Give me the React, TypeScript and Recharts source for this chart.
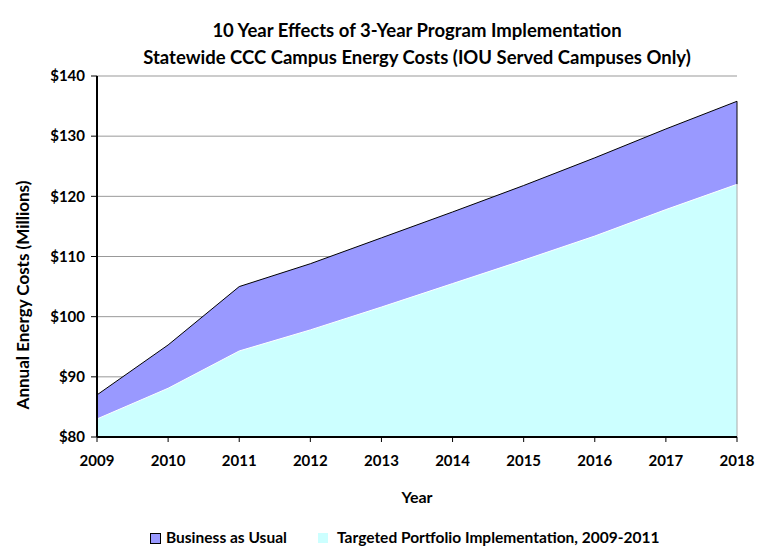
import React from 'react';
import { AreaChart, Area, XAxis, YAxis, CartesianGrid, ReferenceLine } from 'recharts';

const years = ['2009', '2010', '2011', '2012', '2013', '2014', '2015', '2016', '2017', '2018'];
const businessAsUsual = [87, 95.3, 105, 108.8, 113.1, 117.4, 121.8, 126.4, 131.2, 135.8];
const targeted = [83, 88.1, 94.3, 97.8, 101.6, 105.5, 109.4, 113.4, 117.8, 122.0];
const yTicks = [80, 90, 100, 110, 120, 130, 140];

const data = years.map((year, i) => ({
  year,
  bau: businessAsUsual[i],
  targeted: targeted[i],
}));

const FONT = 'Lato, "Open Sans", sans-serif';
const lastYear = years[years.length - 1];
const lastBau = businessAsUsual[businessAsUsual.length - 1];
const lastTargeted = targeted[targeted.length - 1];

const App: React.FC = () => {
  return (
    <div style={{ position: 'absolute', left: 0, top: 0, width: 768, height: 554, fontFamily: FONT, background: '#fff' }}>
      <div style={{ position: 'absolute', left: 97, width: 640, top: 17, textAlign: 'center', fontWeight: 700, fontSize: 18.5, lineHeight: '27px', color: '#000' }}>
        <div>10 Year Effects of 3-Year Program Implementation</div>
        <div>Statewide CCC Campus Energy Costs (IOU Served Campuses Only)</div>
      </div>
      <AreaChart width={768} height={554} data={data} margin={{ top: 76, right: 31, bottom: 87, left: 0 }}>
        <CartesianGrid horizontal vertical={false} stroke="#999" strokeWidth={1} />
        <XAxis
          dataKey="year"
          height={30}
          tick={{ fill: '#000', fontSize: 15, fontWeight: 700, fontFamily: FONT }}
          tickLine={{ stroke: '#000' }}
          tickSize={5}
          tickMargin={13}
          axisLine={{ stroke: '#000', strokeWidth: 2 }}
        />
        <YAxis
          width={97}
          domain={[80, 140]}
          ticks={yTicks}
          tickFormatter={(v) => `$${v}`}
          tick={{ fill: '#000', fontSize: 15, fontWeight: 700, fontFamily: FONT }}
          tickLine={{ stroke: '#000' }}
          tickSize={6}
          tickMargin={6}
          axisLine={{ stroke: '#000', strokeWidth: 2 }}
          allowDataOverflow
        />
        <Area
          type="linear"
          dataKey="bau"
          name="Business as Usual"
          fill="#9999FF"
          fillOpacity={1}
          stroke="#000"
          strokeWidth={1}
          isAnimationActive={false}
        />
        <Area
          type="linear"
          dataKey="targeted"
          name="Targeted Portfolio Implementation, 2009-2011"
          fill="#CCFFFF"
          fillOpacity={1}
          stroke="#fff"
          strokeWidth={1}
          isAnimationActive={false}
        />
        <ReferenceLine segment={[{ x: lastYear, y: lastTargeted }, { x: lastYear, y: lastBau }]} stroke="#000" />
        <ReferenceLine segment={[{ x: lastYear, y: 80 }, { x: lastYear, y: lastTargeted }]} stroke="#aaa" />
      </AreaChart>
      <div
        style={{
          position: 'absolute',
          left: 22,
          top: 295,
          transform: 'translate(-50%, -50%) rotate(-90deg)',
          whiteSpace: 'nowrap',
          fontWeight: 700,
          fontSize: 17,
        }}
      >
        Annual Energy Costs (Millions)
      </div>
      <div style={{ position: 'absolute', left: 97, width: 640, top: 487, textAlign: 'center', fontWeight: 700, fontSize: 16 }}>
        Year
      </div>
      <div style={{ position: 'absolute', left: 0, top: 528, width: 768, height: 20, fontWeight: 700, fontSize: 15.5 }}>
        <div style={{ position: 'absolute', left: 150, top: 5, width: 9, height: 9, background: '#9999FF', border: '1px solid #000' }} />
        <div style={{ position: 'absolute', left: 166, top: 0, whiteSpace: 'nowrap' }}>Business as Usual</div>
        <div style={{ position: 'absolute', left: 318, top: 5, width: 10, height: 10, background: '#CCFFFF' }} />
        <div style={{ position: 'absolute', left: 337, top: 0, whiteSpace: 'nowrap' }}>Targeted Portfolio Implementation, 2009-2011</div>
      </div>
    </div>
  );
};

export default App;
